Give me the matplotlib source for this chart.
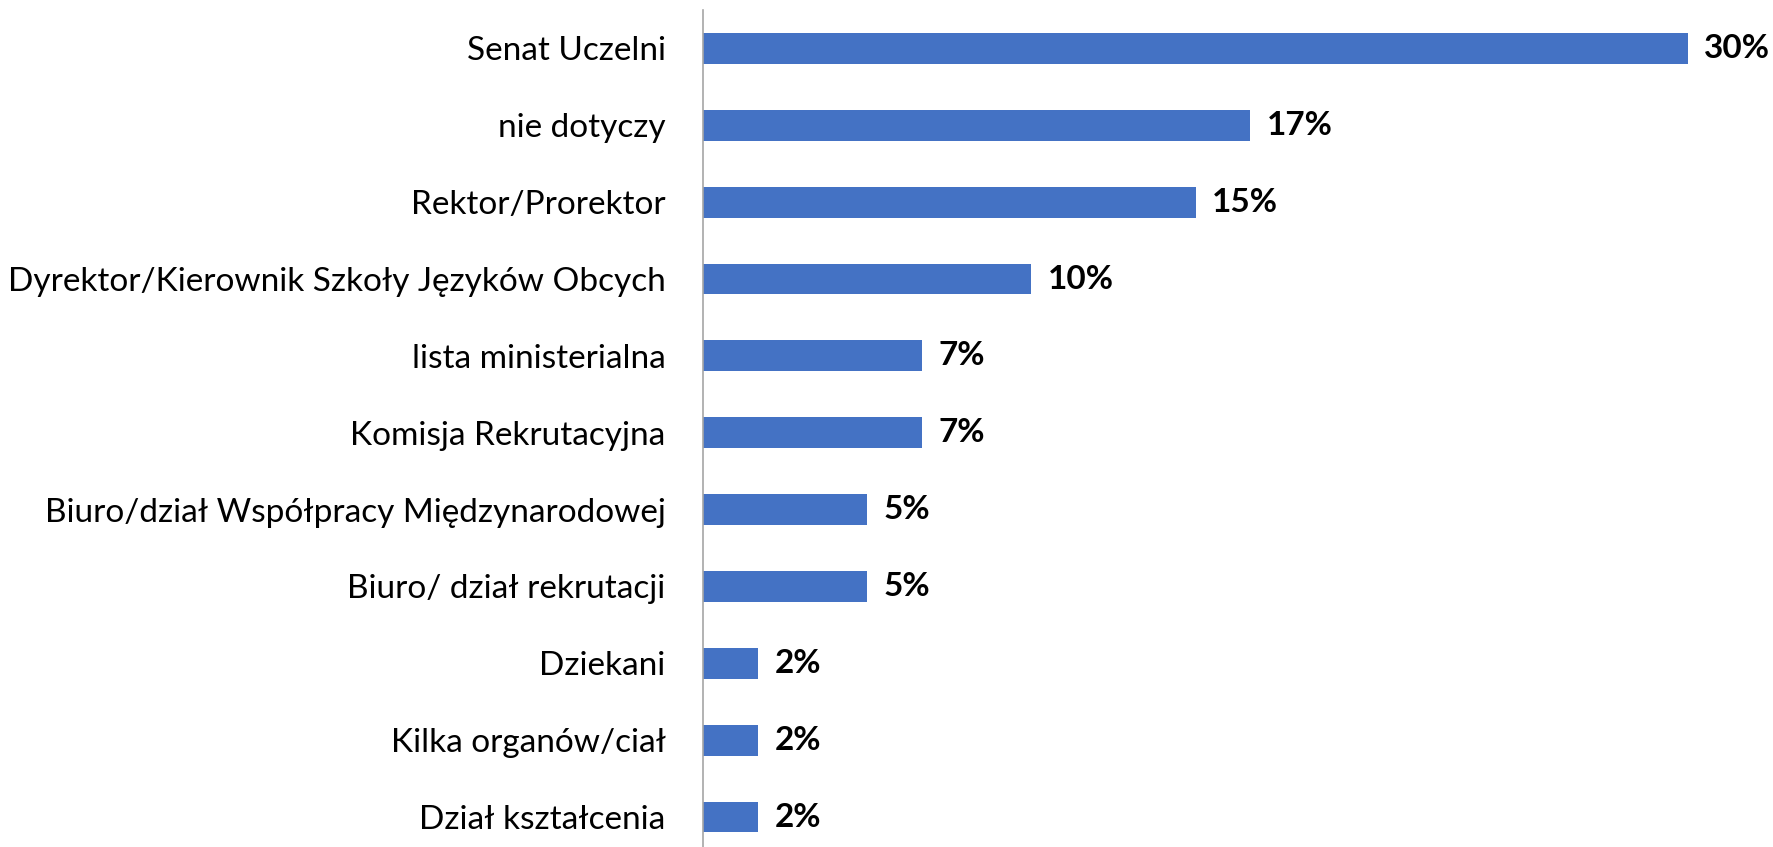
import matplotlib
matplotlib.use("Agg")
import matplotlib.pyplot as plt

categories = [
    "Senat Uczelni",
    "nie dotyczy",
    "Rektor/Prorektor",
    "Dyrektor/Kierownik Szkoły Języków Obcych",
    "lista ministerialna",
    "Komisja Rekrutacyjna",
    "Biuro/dział Współpracy Międzynarodowej",
    "Biuro/ dział rekrutacji",
    "Dziekani",
    "Kilka organów/ciał",
    "Dział kształcenia",
]
values = [30.0, 16.67, 15.0, 10.0, 6.67, 6.67, 5.0, 5.0, 1.67, 1.67, 1.67]
labels = ["30%", "17%", "15%", "10%", "7%", "7%", "5%", "5%", "2%", "2%", "2%"]

plt.rcParams["font.family"] = ["Lato", "DejaVu Sans"]

fig = plt.figure(figsize=(17.74, 8.47), dpi=100)
ax = fig.add_axes([0.3963, 0.0, 0.6037, 0.9882])

y = list(range(len(categories)))
ax.barh(y, values, height=0.40, color="#4472C4")
for yi, v, lab in zip(y, values, labels):
    ax.text(v + 0.5, yi, lab, fontsize=24, fontweight="bold", va="center", ha="left", color="black")

ax.set_ylim(10.39, -0.5)
ax.set_xlim(0, 32.62)
ax.set_yticks(y)
ax.set_yticklabels(categories, fontsize=24)
ax.tick_params(axis="y", length=0, pad=27)
ax.set_xticks([])
for s in ["top", "right", "bottom"]:
    ax.spines[s].set_visible(False)
ax.spines["left"].set_color("#A6A6A6")
ax.spines["left"].set_linewidth(1.2)

fig.savefig("out.png", dpi=100, facecolor="white")
